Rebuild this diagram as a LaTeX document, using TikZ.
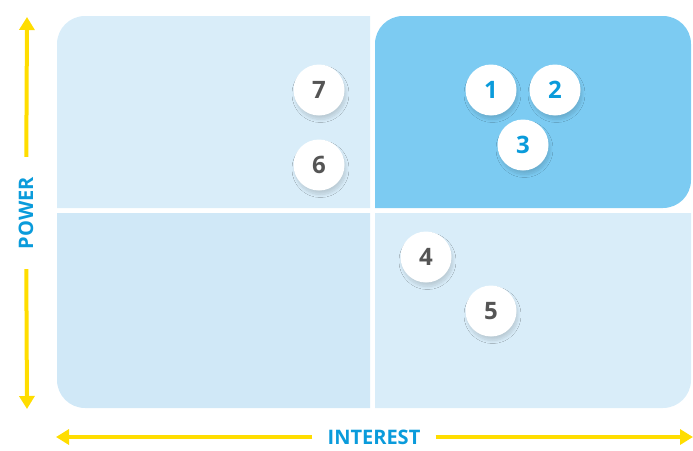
\documentclass[tikz,border=0pt]{standalone}
\usepackage{fontspec}
\setmainfont{Open Sans}
\usetikzlibrary{arrows.meta,shadows.blur}
\definecolor{pale}{HTML}{D9EDF9}
\definecolor{paleB}{HTML}{D0E8F7}
\definecolor{hot}{HTML}{7CCBF2}
\definecolor{ink}{HTML}{0A9BDB}
\definecolor{digit}{HTML}{555555}
\definecolor{axisyel}{HTML}{FFDD00}
\begin{document}
\begin{tikzpicture}[x=1pt,y=-1pt,
  stake/.style={circle,fill=white,minimum size=51pt,inner sep=0pt,
    font=\bfseries\fontsize{24}{24}\selectfont,text=digit,
    blur shadow={shadow xshift=1.5pt,shadow yshift=-4pt,shadow blur radius=3pt,
      shadow blur steps=8,shadow opacity=14}},
  key/.style={stake,text=ink},
  axis/.style={draw=axisyel,line width=4pt,-{Triangle[width=15pt,length=13pt]}},
  axlabel/.style={text=ink,font=\bfseries\fontsize{20}{20}\selectfont}]
  \useasboundingbox (0,0) rectangle (693,450);
  % the four quadrants, only the outer corners rounded
  \fill[pale] (370,208) -- (57,208) [rounded corners=28pt] -- (57,16) [sharp corners] -- (370,16) -- cycle;
  \fill[paleB] (370,213) -- (370,408) [rounded corners=28pt] -- (57,408) [sharp corners] -- (57,213) -- cycle;
  \fill[pale] (375,213) -- (691,213) [rounded corners=28pt] -- (691,408) [sharp corners] -- (375,408) -- cycle;
  \fill[hot] (375,208) [rounded corners=28pt] -- (375,16) -- (691,16) -- (691,208) [sharp corners] -- cycle;
  % stakeholders
  \node[stake] (s7) at (319,90) {7};
  \node[stake] (s6) at (319,165) {6};
  \node[key] (s1) at (491,90) {1};
  \node[key] (s2) at (555,90) {2};
  \node[key] (s3) at (523,145) {3};
  \node[stake] (s4) at (426,257) {4};
  \node[stake] (s5) at (491,311) {5};
  % the two axes
  \node[axlabel,rotate=90,inner xsep=20pt] (power) at (26,213) {POWER};
  \coordinate (ptop) at (27,17);
  \coordinate (pbot) at (27,409);
  \draw[axis] (power) -- (ptop);
  \draw[axis] (power) -- (pbot);
  \node[axlabel,inner xsep=15pt,inner ysep=0pt] (interest) at (374,437) {INTEREST};
  \coordinate (ileft) at (56,437);
  \coordinate (iright) at (693,437);
  \draw[axis] (interest) -- (ileft);
  \draw[axis] (interest) -- (iright);
\end{tikzpicture}
\end{document}
